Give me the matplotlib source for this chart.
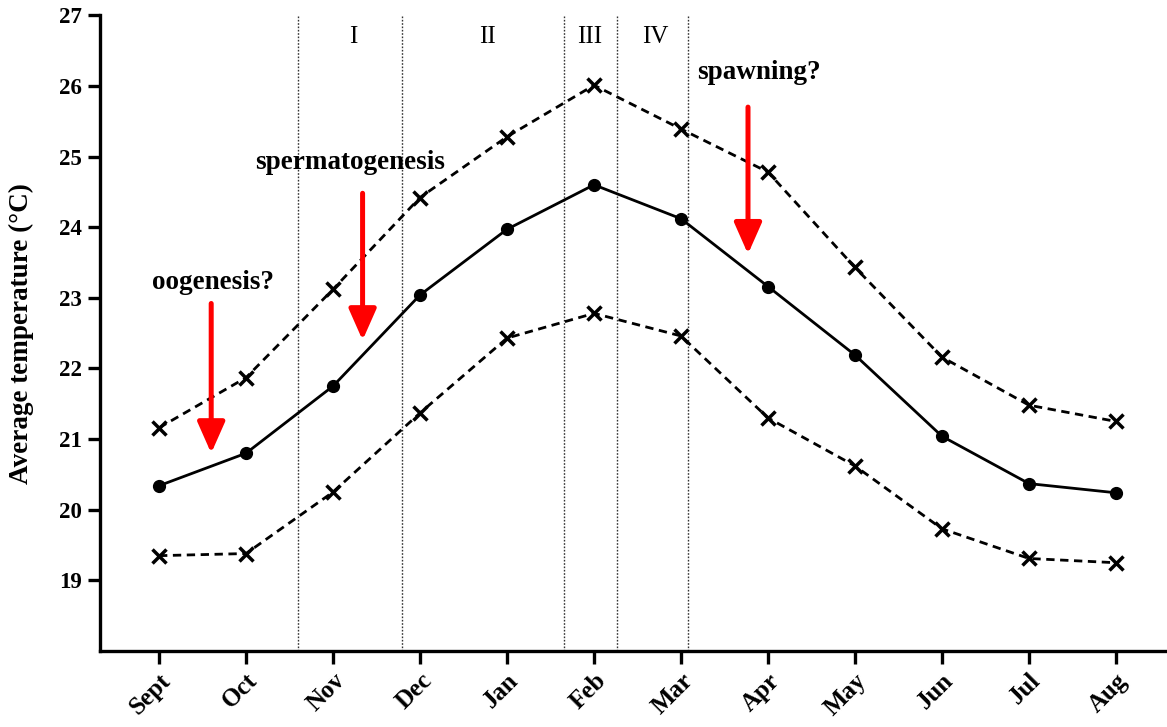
import matplotlib
matplotlib.use("Agg")
import matplotlib.pyplot as plt

months = ["Sept", "Oct", "Nov", "Dec", "Jan", "Feb", "Mar", "Apr", "May", "Jun", "Jul", "Aug"]
mean_temp = [20.34, 20.80, 21.75, 23.04, 23.97, 24.60, 24.12, 23.16, 22.19, 21.04, 20.37, 20.24]
upper_temp = [21.16, 21.87, 23.12, 24.42, 25.28, 26.01, 25.39, 24.78, 23.43, 22.16, 21.48, 21.25]
lower_temp = [19.35, 19.38, 20.25, 21.37, 22.43, 22.78, 22.46, 21.30, 20.62, 19.73, 19.31, 19.25]

phase_bounds = [1.60, 2.79, 4.66, 5.26, 6.08]
phase_labels = ["I", "II", "III", "IV"]
phase_label_x = [2.23, 3.77, 4.95, 5.71]

event_labels = ["oogenesis?", "spermatogenesis", "spawning?"]
event_label_pos = [(0.62, 23.22), (2.20, 24.92), (6.90, 26.19)]
arrow_x = [0.60, 2.34, 6.77]
arrow_top = [22.92, 24.48, 25.70]
arrow_tip = [20.80, 22.40, 23.62]

serif = ["Liberation Serif", "DejaVu Serif"]

fig = plt.figure(figsize=(11.67, 7.27), dpi=100)
ax = fig.add_axes([0.0857, 0.1045, 0.9143, 0.8745])

x = list(range(len(months)))
ax.plot(x, upper_temp, color="black", lw=2.0, ls=(0, (3, 2)), marker="x", ms=10, mew=2.5, zorder=3)
ax.plot(x, lower_temp, color="black", lw=2.0, ls=(0, (3, 2)), marker="x", ms=10, mew=2.5, zorder=3)
ax.plot(x, mean_temp, color="black", lw=2.0, ls="-", marker="o", ms=8.5, zorder=4)

for b in phase_bounds:
    ax.plot([b, b], [18, 27], color="#333333", lw=1.0, ls=(0, (1.2, 1.2)), zorder=1)

for lab, px in zip(phase_labels, phase_label_x):
    ax.text(px, 26.69, lab, ha="center", va="center", fontsize=18, family=serif)

for lab, (tx, ty) in zip(event_labels, event_label_pos):
    ax.text(tx, ty, lab, ha="center", va="center", fontsize=19.5, fontweight="bold", family=serif)

for ax_x, top, tip in zip(arrow_x, arrow_top, arrow_tip):
    ax.annotate("", xy=(ax_x, tip), xytext=(ax_x, top),
                arrowprops=dict(arrowstyle="-|>,head_length=0.95,head_width=0.42",
                                mutation_scale=20, color="red", lw=3.6,
                                shrinkA=0, shrinkB=0), zorder=5)

ax.set_xlim(-0.678, 11.586)
ax.set_ylim(18, 27)
ax.set_yticks(range(19, 28))
ax.set_xticks(x)
ax.set_xticklabels(months, rotation=45, ha="right", va="top", rotation_mode="anchor")

for s in ["top", "right"]:
    ax.spines[s].set_visible(False)
for s in ["left", "bottom"]:
    ax.spines[s].set_linewidth(2.4)
ax.tick_params(axis="both", direction="out", length=9, width=2.4, pad=4)
for lbl in ax.get_yticklabels():
    lbl.set_fontfamily(serif)
    lbl.set_fontweight("bold")
    lbl.set_fontsize(16.5)
for lbl in ax.get_xticklabels():
    lbl.set_fontfamily(serif)
    lbl.set_fontweight("bold")
    lbl.set_fontsize(18)

ax.set_ylabel("Average temperature (°C)", fontsize=19.5, fontweight="bold", family=serif)
ax.yaxis.set_label_coords(-0.062, 0.5)

fig.savefig("out.png", dpi=100)
